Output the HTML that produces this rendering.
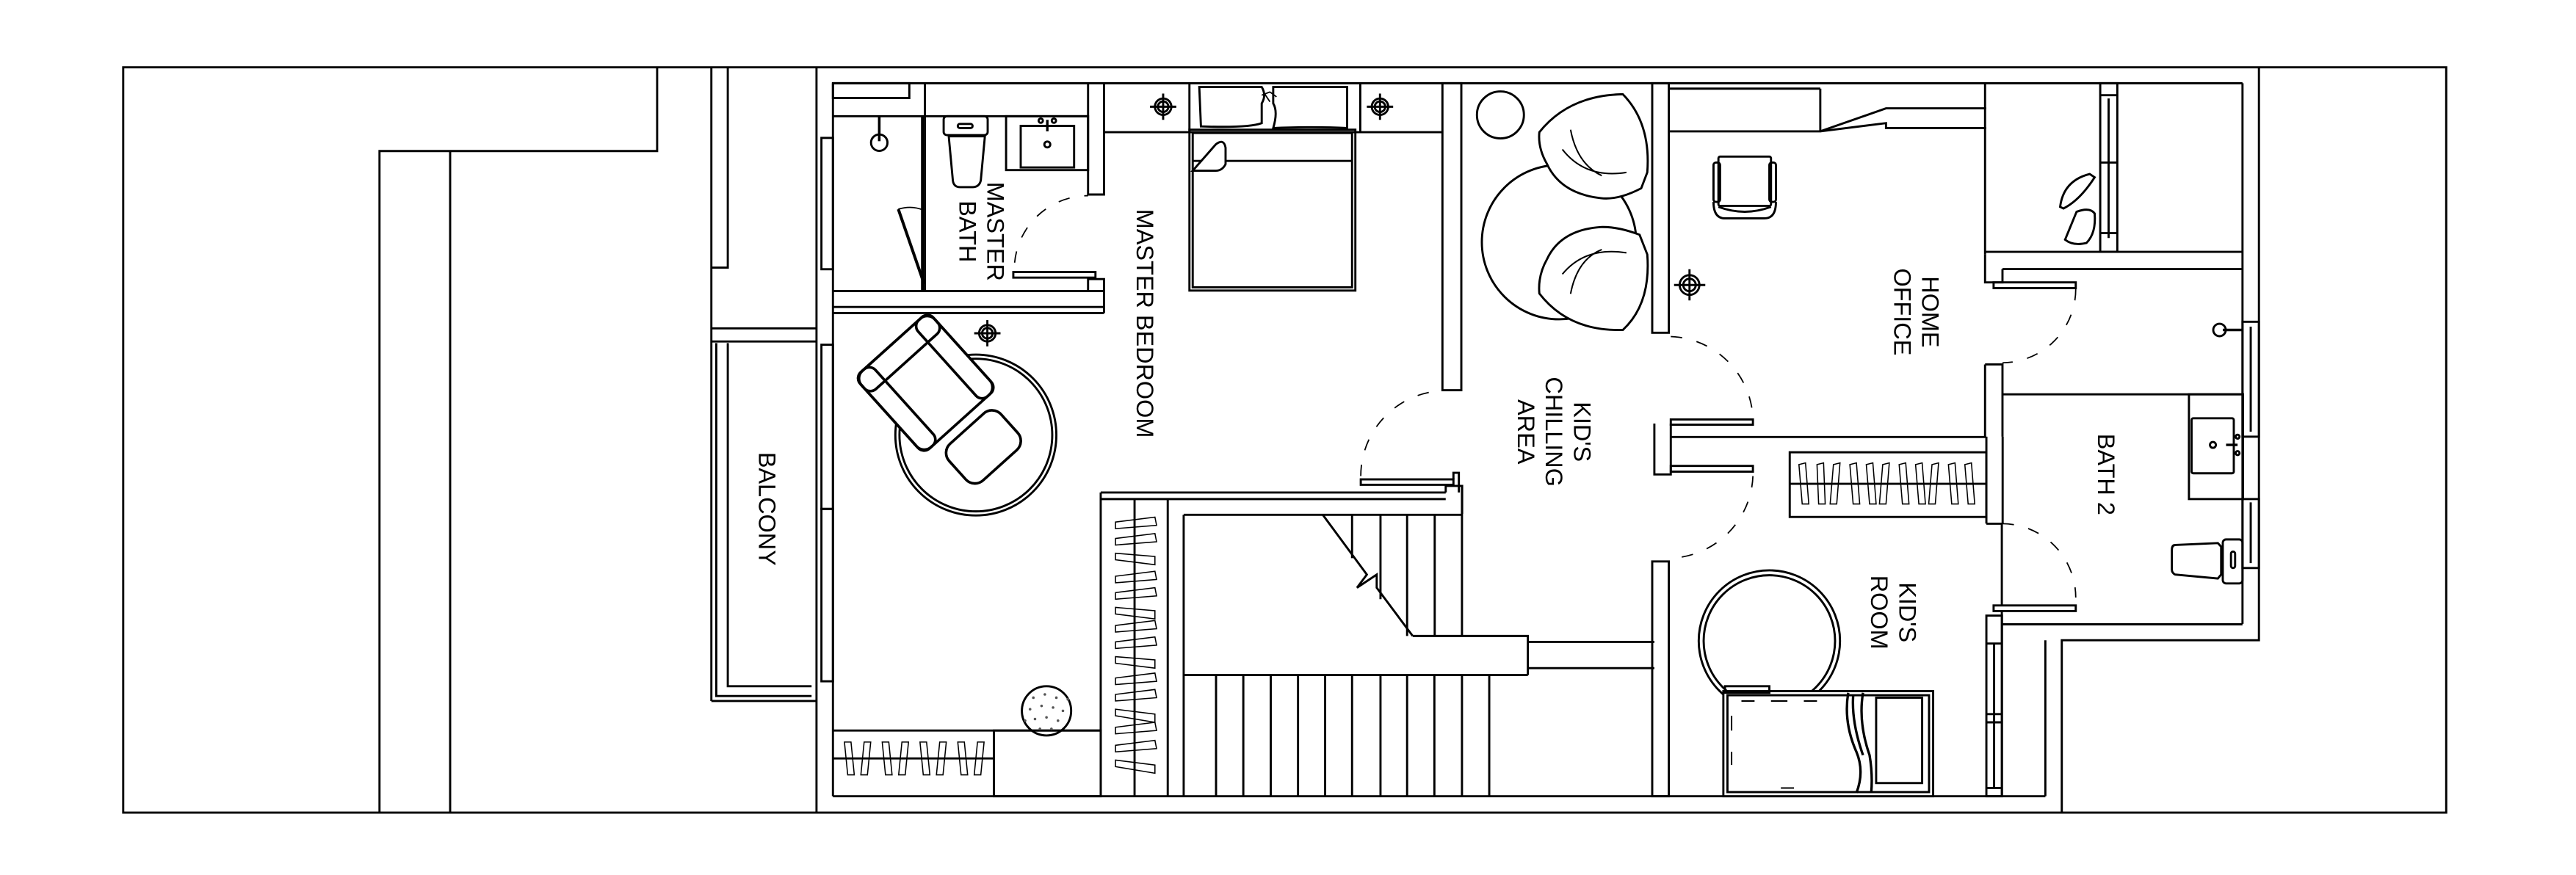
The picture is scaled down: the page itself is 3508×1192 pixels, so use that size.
<!DOCTYPE html>
<html><head><meta charset="utf-8"><style>
html,body{margin:0;padding:0;background:#fff;}
svg{display:block;}
text{font-family:"Liberation Sans",sans-serif;font-size:14.5px;fill:#000;}
</style></head><body>
<svg width="3508" height="1192" viewBox="0 0 1568 533" preserveAspectRatio="none" xmlns="http://www.w3.org/2000/svg">
<g fill="none" stroke="#000" stroke-width="1.3" stroke-linejoin="miter">
<rect x="75" y="41" width="1414" height="454"/>
<polyline points="231,495 231,92 400,92 400,41"/>
<line x1="274" y1="92" x2="274" y2="495"/>
<line x1="433" y1="41" x2="433" y2="427"/>
<polyline points="443,41 443,163 433,163"/>
<line x1="433" y1="200" x2="497" y2="200"/>
<line x1="433" y1="208" x2="497" y2="208"/>
<polyline points="436,209 436,424 494,424"/>
<polyline points="443,209 443,418 494,418"/>
<line x1="433" y1="427" x2="497" y2="427"/>
<line x1="497" y1="41" x2="497" y2="495"/>
<polyline points="1375,41 1375,390 1255,390 1255,495"/>
<line x1="507" y1="50.7" x2="1365" y2="50.7"/>
<line x1="507" y1="50.7" x2="507" y2="485"/>
<line x1="507" y1="485" x2="1245" y2="485"/>
<line x1="1245" y1="390" x2="1245" y2="485"/>
<rect x="500" y="84" width="7" height="80"/>
<rect x="500" y="210" width="7" height="100"/>
<rect x="500" y="310" width="7" height="105"/>
<rect x="507" y="50.7" width="46.5" height="9"/>
<line x1="507" y1="70.8" x2="662.3" y2="70.8"/>
<line x1="563" y1="50.7" x2="563" y2="177.3"/>
<line x1="561.5" y1="70.8" x2="561.5" y2="177.3" stroke-width="1.8"/>
<line x1="507" y1="177.3" x2="672" y2="177.3"/>
<line x1="507" y1="187" x2="672" y2="187"/>
<line x1="507" y1="190.7" x2="672" y2="190.7"/>
<polyline points="662.3,50.7 662.3,118.5 672,118.5 672,50.7"/>
<polyline points="662.3,177.3 662.3,170 672,170 672,190.7"/>
<rect x="616.8" y="165.7" width="50" height="3.4"/>
<path d="M617.6,160 A45,45 0 0 1 662.3,119.2" stroke-dasharray="7,9" stroke-width="0.8"/>
<line x1="546.8" y1="127.4" x2="562.5" y2="172.9" stroke-width="1.8"/>
<path d="M546.8,127.4 Q555,125 562,128" stroke-width="0.8"/>
<circle cx="535.2" cy="86.9" r="5"/>
<line x1="535.2" y1="70.8" x2="535.2" y2="86" stroke-width="1.6"/>
<rect x="574.4" y="70.8" width="26.8" height="11.5" rx="2"/>
<path d="M577.5,83 L599.5,83 L597,110 Q596,114 592,114 L584.5,114 Q580.5,114 580,110 Z"/>
<rect x="583" y="75.5" width="9" height="2.5" rx="1.2"/>
<rect x="612.4" y="70.8" width="49.9" height="32.8"/>
<rect x="621.3" y="76.7" width="32.5" height="25.3"/>
<circle cx="637.5" cy="88" r="1.8"/>
<circle cx="633.5" cy="73.5" r="1.3"/><circle cx="641.5" cy="73.5" r="1.3"/>
<line x1="637.5" y1="73" x2="637.5" y2="80" stroke-width="1.5"/>
<line x1="672" y1="80.5" x2="878" y2="80.5"/>
<line x1="724" y1="50.7" x2="724" y2="80.5"/>
<line x1="828" y1="50.7" x2="828" y2="80.5"/>
<rect x="724" y="79" width="101" height="98"/>
<rect x="726" y="81" width="97" height="94"/>
<line x1="726" y1="98" x2="823" y2="98"/>
<path d="M726,104 L740,88 Q745,84 746,90 L746,100 Q744,104 740,104 Z" fill="#fff"/>
<path d="M730,53 L768,53 Q771,58 768,63 L768,75 Q760,78 731,77 Z"/>
<path d="M775,53 L820,53 L820,78 Q800,77 775,78 Q778,68 775,63 Z"/>
<path d="M768,58 L773,56 M769,56 L773,62 M773,56 L777,59" stroke-width="0.8"/>
<g>
<circle cx="708" cy="65" r="5"/><circle cx="708" cy="65" r="3.2"/><line x1="700" y1="65" x2="716" y2="65"/><line x1="708" y1="57" x2="708" y2="73"/>
<circle cx="840" cy="65" r="5"/><circle cx="840" cy="65" r="3.2"/><line x1="832" y1="65" x2="848" y2="65"/><line x1="840" y1="57" x2="840" y2="73"/>
<circle cx="601" cy="203" r="5"/><circle cx="601" cy="203" r="3.2"/><line x1="593" y1="203" x2="609" y2="203"/><line x1="601" y1="195" x2="601" y2="211"/>
<circle cx="1028.4" cy="173.6" r="6"/><circle cx="1028.4" cy="173.6" r="3.8"/><line x1="1019" y1="173.6" x2="1038" y2="173.6"/><line x1="1028.4" y1="164" x2="1028.4" y2="183"/>
</g>
<rect x="878" y="50.7" width="11.5" height="187"/>
<rect x="828.3" y="292" width="56.4" height="3.3"/>
<polyline points="884.7,292 884.7,288 888,288 888,300"/>
<path d="M828.3,290 A52,52 0 0 1 878,238" stroke-dasharray="7,9" stroke-width="0.8"/>
<circle cx="594" cy="265" r="49"/>
<circle cx="594" cy="265" r="46.5"/>
<g transform="translate(566,236) rotate(-42) scale(1.25)">
<rect x="-24" y="-28" width="48" height="50" rx="5" fill="#fff"/>
<rect x="-24" y="-28" width="48" height="11" rx="4"/>
<rect x="-24" y="-28" width="10" height="50" rx="4"/>
<rect x="14" y="-28" width="10" height="50" rx="4"/>
<rect x="-17" y="27" width="34" height="24" rx="6" fill="#fff"/>
</g>
<line x1="507" y1="445" x2="670" y2="445"/>
<line x1="507" y1="462" x2="605" y2="462"/>
<rect x="605" y="445" width="65" height="40"/>
<circle cx="637" cy="433" r="15"/>
<g fill="#555" stroke="none">
<circle cx="629" cy="425" r="0.8"/><circle cx="636" cy="423" r="0.8"/><circle cx="643" cy="425" r="0.8"/><circle cx="627" cy="432" r="0.8"/><circle cx="634" cy="430" r="0.8"/><circle cx="641" cy="431" r="0.8"/><circle cx="647" cy="433" r="0.8"/><circle cx="630" cy="438" r="0.8"/><circle cx="637" cy="437" r="0.8"/><circle cx="644" cy="439" r="0.8"/><circle cx="633" cy="444" r="0.8"/><circle cx="640" cy="444" r="0.8"/><circle cx="624" cy="439" r="0.8"/><circle cx="650" cy="426" r="0.8"/>
</g>
<g stroke-width="0.7">
<path d="M514,452 L518,452 L520,472 L516,472 Z"/><path d="M526,452 L530,452 L528,472 L524,472 Z"/>
<path d="M537,452 L541,452 L543,472 L539,472 Z"/><path d="M549,452 L553,452 L551,472 L547,472 Z"/>
<path d="M560,452 L564,452 L566,472 L562,472 Z"/><path d="M572,452 L576,452 L574,472 L570,472 Z"/>
<path d="M583,452 L587,452 L589,472 L585,472 Z"/><path d="M595,452 L599,452 L597,472 L593,472 Z"/>
</g>
<line x1="670" y1="300" x2="670" y2="485"/>
<line x1="670" y1="300" x2="880" y2="300"/>
<line x1="670" y1="304" x2="880" y2="304"/>
<polyline points="880,300 880,296 890,296 890,313"/>
<line x1="690.6" y1="304" x2="690.6" y2="485"/>
<line x1="710.8" y1="304" x2="710.8" y2="485"/>
<line x1="720.5" y1="313.6" x2="720.5" y2="485"/>
<line x1="720.5" y1="313.6" x2="890" y2="313.6"/>
<g stroke-width="0.7">
<path d="M679,318 L703,315 L704,320 L679,322 Z"/><path d="M679,328 L703,325 L704,330 L679,332 Z"/>
<path d="M679,337 L703,339 L703,344 L679,341 Z"/><path d="M679,351 L703,348 L704,353 L679,355 Z"/>
<path d="M679,361 L703,358 L704,363 L679,365 Z"/><path d="M679,370 L703,372 L703,377 L679,374 Z"/>
<path d="M679,381 L703,378 L704,383 L679,385 Z"/><path d="M679,391 L703,388 L704,393 L679,395 Z"/>
<path d="M679,400 L703,402 L703,407 L679,404 Z"/><path d="M679,413 L703,410 L704,415 L679,417 Z"/>
<path d="M679,423 L703,420 L704,425 L679,427 Z"/><path d="M679,432 L703,435 L703,440 L679,436 Z"/>
<path d="M679,443 L703,440 L704,445 L679,447 Z"/><path d="M679,454 L703,451 L704,456 L679,458 Z"/>
<path d="M679,463 L703,466 L703,471 L679,467 Z"/>
</g>
<line x1="823" y1="313.6" x2="823" y2="340"/>
<line x1="840.3" y1="313.6" x2="840.3" y2="365"/>
<line x1="856.5" y1="313.6" x2="856.5" y2="387.4"/>
<line x1="873.3" y1="313.6" x2="873.3" y2="387.4"/>
<line x1="889.9" y1="296" x2="889.9" y2="387.4"/>
<polyline points="805.2,313.6 832,350 826,358 838,350 838,358 859.9,387.4"/>
<polyline points="859.9,387.4 930,387.4 930,411.2"/>
<line x1="720.5" y1="411.2" x2="930" y2="411.2"/>
<line x1="930" y1="391" x2="1007" y2="391"/>
<line x1="930" y1="407" x2="1007" y2="407"/>
<g>
<line x1="740.2" y1="411.2" x2="740.2" y2="485"/><line x1="756.8" y1="411.2" x2="756.8" y2="485"/>
<line x1="773.5" y1="411.2" x2="773.5" y2="485"/><line x1="790.1" y1="411.2" x2="790.1" y2="485"/>
<line x1="806.6" y1="411.2" x2="806.6" y2="485"/><line x1="823" y1="411.2" x2="823" y2="485"/>
<line x1="840.3" y1="411.2" x2="840.3" y2="485"/><line x1="856.5" y1="411.2" x2="856.5" y2="485"/>
<line x1="873.1" y1="411.2" x2="873.1" y2="485"/><line x1="889.9" y1="411.2" x2="889.9" y2="485"/>
<line x1="906.5" y1="411.2" x2="906.5" y2="485"/>
</g>
<circle cx="913.3" cy="70" r="14.3"/>
<circle cx="949" cy="147.5" r="47"/>
<path d="M937,80.5 Q955,58 987.8,57.4 Q1005,75 1002.7,105 L999,114.7 Q985,122 974.4,120.7 Q950,118 941.6,99.8 Q936,90 937,80.5 Z" fill="#fff"/>
<path d="M956,79 Q960,100 975,107 M951,91 Q965,109 990,105" stroke-width="0.9"/>
<path d="M937,178.8 Q955,202 987.8,201 Q1005,185 1002.7,155 L998,143 Q985,138 974.4,138.3 Q950,140 941.6,158 Q936,168 937,178.8 Z" fill="#fff"/>
<path d="M956,179 Q960,158 975,152 M951,167 Q965,150 990,154" stroke-width="0.9"/>
<rect x="1005.7" y="50.7" width="10.1" height="152"/>
<path d="M1017,205 A52,52 0 0 1 1067,255" stroke-dasharray="7,9" stroke-width="0.8"/>
<rect x="1017" y="255.5" width="50" height="3.2"/>
<polyline points="1007,258 1007,289 1017,289 1017,258"/>
<line x1="1017" y1="266.2" x2="1209" y2="266.2"/>
<rect x="1017" y="283.8" width="50" height="3.5"/>
<path d="M1067,290 A52,52 0 0 1 1017,340" stroke-dasharray="7,9" stroke-width="0.8"/>
<rect x="1005.7" y="342" width="10.1" height="143"/>
<line x1="1016" y1="54" x2="1108" y2="54"/>
<polyline points="1016,80 1108,80 1148,75 1148,78 1209,78"/>
<line x1="1108" y1="54" x2="1108" y2="80"/>
<polyline points="1108,80 1148,66 1209,66"/>
<rect x="1046" y="95.4" width="32" height="30" rx="1"/>
<rect x="1043" y="99" width="4" height="24" rx="1.5"/>
<rect x="1077" y="99" width="4" height="24" rx="1.5"/>
<path d="M1043,123 Q1043,133 1050,133 L1074,133 Q1081,133 1081,123" />
<path d="M1046,126 Q1062,132 1078,126"/>
<line x1="1208.3" y1="50.7" x2="1208.3" y2="155"/>
<line x1="1208.3" y1="153.4" x2="1365" y2="153.4"/>
<rect x="1278.4" y="50.7" width="10.4" height="102.7"/>
<line x1="1283.5" y1="60" x2="1283.5" y2="145"/>
<line x1="1278.4" y1="58" x2="1288.8" y2="58"/><line x1="1278.4" y1="99" x2="1288.8" y2="99"/><line x1="1278.4" y1="142" x2="1288.8" y2="142"/>
<line x1="1365" y1="50.7" x2="1365" y2="380"/>
<path d="M1254,126 Q1256,110 1272,106 L1275,108 Q1266,122 1256,127 Z"/>
<path d="M1257,146 L1264,129 Q1272,126 1275,130 Q1276,142 1270,148 Q1262,150 1257,146 Z"/>
<line x1="1218.9" y1="163.9" x2="1365" y2="163.9"/>
<polyline points="1208.3,155 1208.3,172 1213.5,172 1218.9,172 1218.9,163.9"/>
<rect x="1213.5" y="172" width="50" height="3.5"/>
<path d="M1263.5,176 A45,45 0 0 1 1218.9,221" stroke-dasharray="7,9" stroke-width="0.8"/>
<polyline points="1208.3,222 1218.9,222 1218.9,266"/>
<line x1="1208.3" y1="222" x2="1208.3" y2="266"/>
<line x1="1218.5" y1="240.2" x2="1365" y2="240.2"/>
<circle cx="1351" cy="201" r="3.8"/>
<line x1="1353" y1="201" x2="1365" y2="201" stroke-width="1.6"/>
<rect x="1365" y="196" width="10" height="70"/>
<line x1="1370" y1="199" x2="1370" y2="263"/>
<rect x="1332.4" y="240.2" width="32.9" height="63.8"/>
<rect x="1334" y="254.8" width="25.7" height="33.5" rx="1"/>
<circle cx="1347" cy="271" r="1.8"/>
<circle cx="1362" cy="266" r="1.2"/><circle cx="1362" cy="276" r="1.2"/>
<line x1="1355" y1="271" x2="1362" y2="271" stroke-width="1.5"/>
<rect x="1365" y="304" width="10" height="42"/>
<line x1="1370" y1="306" x2="1370" y2="343"/>
<rect x="1353" y="328.6" width="12" height="26.8" rx="2"/>
<path d="M1324,332 L1350,330.8 L1352,333 L1352,350 L1350,352.4 L1324,350 Q1322,349 1322,347 L1322,335 Q1322,332 1324,332 Z"/>
<rect x="1358" y="336" width="2.5" height="10" rx="1.2"/>
<line x1="1218.5" y1="319" x2="1218.5" y2="368.8"/>
<path d="M1218.9,319 A45,45 0 0 1 1263.5,364" stroke-dasharray="7,9" stroke-width="0.8"/>
<rect x="1213.5" y="368.8" width="50" height="3.4"/>
<line x1="1218.5" y1="380.3" x2="1365" y2="380.3"/>
<line x1="1218.5" y1="372" x2="1218.5" y2="485"/>
<rect x="1089.4" y="275.5" width="119.7" height="39.4"/>
<line x1="1089.4" y1="294.7" x2="1209" y2="294.7"/>
<line x1="1209.1" y1="266" x2="1209.1" y2="319"/>
<line x1="1219" y1="266" x2="1219" y2="319"/>
<line x1="1209.1" y1="319" x2="1219" y2="319"/>
<g stroke-width="0.7">
<path d="M1095,283 L1099,282 L1101,307 L1097,307 Z"/><path d="M1106,283 L1110,282 L1111,307 L1107,307 Z"/>
<path d="M1116,283 L1120,282 L1118,307 L1114,307 Z"/><path d="M1126,283 L1130,282 L1132,307 L1128,307 Z"/>
<path d="M1136,283 L1140,282 L1142,307 L1138,307 Z"/><path d="M1146,283 L1150,282 L1148,307 L1144,307 Z"/>
<path d="M1156,283 L1160,282 L1162,307 L1158,307 Z"/><path d="M1166,283 L1170,282 L1172,307 L1168,307 Z"/>
<path d="M1176,283 L1180,282 L1178,307 L1174,307 Z"/><path d="M1186,283 L1190,282 L1192,307 L1188,307 Z"/>
<path d="M1196,283 L1200,282 L1202,307 L1198,307 Z"/>
</g>
<rect x="1209.1" y="375" width="9.5" height="110"/>
<line x1="1213.8" y1="392" x2="1213.8" y2="480"/>
<line x1="1209.1" y1="392" x2="1218.5" y2="392"/><line x1="1209.1" y1="435" x2="1218.5" y2="435"/><line x1="1209.1" y1="440" x2="1218.5" y2="440"/><line x1="1209.1" y1="480" x2="1218.5" y2="480"/>
<circle cx="1077" cy="390.4" r="43"/>
<circle cx="1077" cy="390.4" r="40"/>
<rect x="1049" y="421" width="127.7" height="64" fill="#fff"/>
<rect x="1051.5" y="423.5" width="122.7" height="59"/>
<rect x="1050" y="418" width="27" height="4"/>
<path d="M1125,422 Q1122,440 1130,458 Q1135,470 1130,483 M1134,422 Q1131,440 1138,460 Q1140,472 1139,483 M1128,424 Q1127,440 1134,460" stroke-width="1.5"/>
<rect x="1142" y="425" width="28" height="52"/>
<path d="M1060,427 L1068,427 M1078,427 L1088,427 M1098,427 L1106,427 M1054,436 L1054,445 M1054,458 L1054,466 M1084,480 L1092,480" stroke-width="0.9"/>
</g>
<g>
<text transform="translate(692,197) rotate(90)" text-anchor="middle">MASTER BEDROOM</text>
<text transform="translate(601,141) rotate(90)" text-anchor="middle">MASTER</text>
<text transform="translate(584,141) rotate(90)" text-anchor="middle">BATH</text>
<text transform="translate(462,310) rotate(90)" text-anchor="middle">BALCONY</text>
<text transform="translate(958,263) rotate(90)" text-anchor="middle">KID'S</text>
<text transform="translate(941,263) rotate(90)" text-anchor="middle">CHILLING</text>
<text transform="translate(924,263) rotate(90)" text-anchor="middle">AREA</text>
<text transform="translate(1170,190) rotate(90)" text-anchor="middle">HOME</text>
<text transform="translate(1153,190) rotate(90)" text-anchor="middle">OFFICE</text>
<text transform="translate(1277,289) rotate(90)" text-anchor="middle">BATH 2</text>
<text transform="translate(1156,373) rotate(90)" text-anchor="middle">KID'S</text>
<text transform="translate(1139,373) rotate(90)" text-anchor="middle">ROOM</text>
</g>
</svg>
</body></html>
